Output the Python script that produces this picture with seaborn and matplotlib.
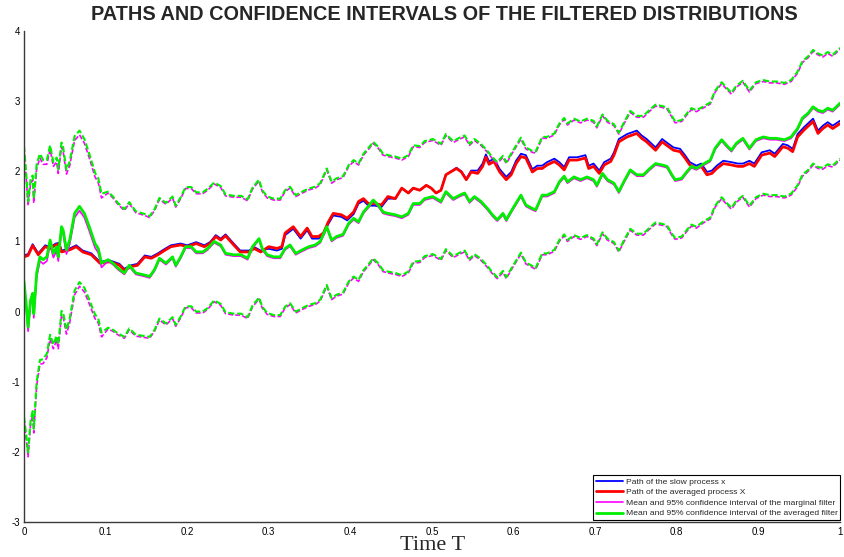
import numpy as np
import matplotlib
matplotlib.use("Agg")
import matplotlib.pyplot as plt
import seaborn as sns

# ---------------- data ----------------
path_t = [0.000, 0.005, 0.0106, 0.0175, 0.026, 0.032, 0.039, 0.043, 0.046, 0.056,
          0.064, 0.072, 0.0825, 0.093, 0.105, 0.117, 0.123, 0.131, 0.139, 0.148,
          0.156, 0.164, 0.172, 0.180, 0.192, 0.200, 0.211, 0.221, 0.228, 0.235,
          0.241, 0.247, 0.257, 0.265, 0.276, 0.282, 0.290, 0.300, 0.310, 0.316,
          0.320, 0.330, 0.339, 0.347, 0.353, 0.361, 0.367, 0.373, 0.379, 0.389,
          0.396, 0.404, 0.410, 0.416, 0.422, 0.430, 0.438, 0.446, 0.455, 0.463,
          0.471, 0.477, 0.485, 0.493, 0.499, 0.505, 0.511, 0.517, 0.530, 0.536,
          0.542, 0.548, 0.556, 0.562, 0.566, 0.570, 0.576, 0.583, 0.591, 0.597,
          0.603, 0.609, 0.615, 0.623, 0.629, 0.635, 0.641, 0.650, 0.656, 0.662,
          0.668, 0.678, 0.688, 0.692, 0.698, 0.705, 0.711, 0.719, 0.723, 0.729,
          0.739, 0.751, 0.757, 0.763, 0.774, 0.782, 0.790, 0.796, 0.804, 0.810,
          0.816, 0.824, 0.830, 0.837, 0.843, 0.849, 0.857, 0.867, 0.875, 0.881,
          0.889, 0.895, 0.904, 0.914, 0.920, 0.930, 0.936, 0.942, 0.948, 0.956,
          0.967, 0.973, 0.979, 0.985, 0.991, 1.000]

# averaged process X (red)
path_X = [0.78, 0.80, 0.94, 0.81, 0.925, 0.90, 0.95, 0.96, 0.85, 0.88,
          0.925, 0.85, 0.81, 0.69, 0.71, 0.66, 0.59, 0.64, 0.66, 0.78,
          0.76, 0.81, 0.87, 0.925, 0.95, 0.925, 0.97, 0.925, 0.97, 1.07,
          1.02, 1.08, 0.95, 0.85, 0.85, 0.90, 0.85, 0.925, 0.90, 0.925,
          1.12, 1.21, 1.07, 1.19, 1.07, 1.07, 1.12, 1.28, 1.40, 1.38,
          1.33, 1.42, 1.57, 1.61, 1.54, 1.54, 1.52, 1.64, 1.61, 1.76,
          1.69, 1.76, 1.73, 1.80, 1.76, 1.69, 1.73, 1.95, 2.04, 1.99,
          1.88, 1.99, 1.97, 2.07, 2.20, 2.10, 2.14, 1.99, 1.88, 1.95,
          2.11, 2.21, 2.19, 1.99, 2.04, 2.04, 2.09, 2.14, 2.09, 2.02,
          2.16, 2.16, 2.19, 2.04, 2.07, 1.97, 2.09, 2.14, 2.23, 2.42,
          2.49, 2.54, 2.47, 2.42, 2.30, 2.42, 2.35, 2.30, 2.28, 2.19,
          2.09, 2.04, 2.07, 1.95, 1.97, 2.04, 2.11, 2.09, 2.07, 2.07,
          2.11, 2.07, 2.23, 2.26, 2.21, 2.35, 2.33, 2.28, 2.49, 2.59,
          2.71, 2.54, 2.61, 2.66, 2.61, 2.68]

# slow process x (blue)
path_x = [0.80, 0.82, 0.96, 0.83, 0.945, 0.92, 0.97, 0.98, 0.87, 0.90,
          0.945, 0.87, 0.83, 0.71, 0.73, 0.68, 0.61, 0.66, 0.68, 0.80,
          0.78, 0.83, 0.89, 0.945, 0.97, 0.945, 0.99, 0.945, 0.99, 1.09,
          1.04, 1.10, 0.97, 0.87, 0.87, 0.92, 0.87, 0.895, 0.87, 0.895,
          1.09, 1.18, 1.04, 1.16, 1.04, 1.04, 1.09, 1.25, 1.37, 1.35,
          1.30, 1.39, 1.54, 1.58, 1.51, 1.51, 1.49, 1.61, 1.61, 1.76,
          1.69, 1.76, 1.73, 1.80, 1.76, 1.69, 1.73, 1.95, 2.05, 2.00,
          1.89, 2.01, 2.01, 2.11, 2.24, 2.14, 2.18, 2.03, 1.92, 1.99,
          2.15, 2.25, 2.23, 2.03, 2.08, 2.08, 2.13, 2.18, 2.13, 2.06,
          2.20, 2.20, 2.23, 2.08, 2.11, 2.01, 2.13, 2.18, 2.27, 2.46,
          2.53, 2.58, 2.51, 2.46, 2.34, 2.46, 2.39, 2.34, 2.32, 2.23,
          2.13, 2.08, 2.11, 1.99, 2.01, 2.08, 2.15, 2.13, 2.11, 2.11,
          2.15, 2.11, 2.27, 2.30, 2.25, 2.39, 2.37, 2.32, 2.53, 2.63,
          2.75, 2.58, 2.65, 2.70, 2.65, 2.72]

filter_t = [0.000, 0.003, 0.005, 0.008, 0.0106, 0.012, 0.0155, 0.0195, 0.0235, 0.028,
            0.032, 0.036, 0.040, 0.042, 0.046, 0.048, 0.052, 0.056, 0.062, 0.068,
            0.074, 0.080, 0.087, 0.091, 0.095, 0.103, 0.109, 0.115, 0.123, 0.129,
            0.137, 0.148, 0.154, 0.160, 0.166, 0.174, 0.182, 0.186, 0.192, 0.198,
            0.205, 0.211, 0.219, 0.225, 0.233, 0.241, 0.247, 0.257, 0.266, 0.274,
            0.280, 0.288, 0.292, 0.298, 0.306, 0.314, 0.320, 0.326, 0.333, 0.341,
            0.349, 0.357, 0.363, 0.371, 0.377, 0.383, 0.391, 0.398, 0.404, 0.410,
            0.416, 0.422, 0.428, 0.434, 0.440, 0.446, 0.455, 0.463, 0.471, 0.477,
            0.485, 0.491, 0.501, 0.511, 0.517, 0.526, 0.534, 0.540, 0.546, 0.552,
            0.560, 0.568, 0.574, 0.580, 0.587, 0.591, 0.599, 0.609, 0.615, 0.623,
            0.627, 0.635, 0.641, 0.650, 0.656, 0.662, 0.666, 0.674, 0.682, 0.690,
            0.698, 0.702, 0.709, 0.715, 0.723, 0.729, 0.735, 0.743, 0.751, 0.759,
            0.767, 0.774, 0.782, 0.788, 0.794, 0.798, 0.806, 0.812, 0.818, 0.824,
            0.832, 0.841, 0.847, 0.855, 0.861, 0.867, 0.873, 0.881, 0.889, 0.897,
            0.906, 0.914, 0.922, 0.932, 0.940, 0.948, 0.954, 0.961, 0.967, 0.973,
            0.979, 0.985, 0.991, 1.000]

# mean of the averaged filter (green)
avg_mean = [0.43, 0.07, -0.22, 0.16, 0.26, -0.03, 0.55, 0.78, 0.74, 0.78,
            1.02, 0.83, 0.925, 0.78, 1.21, 1.16, 0.88, 1.02, 1.40, 1.50,
            1.40, 1.21, 0.97, 0.90, 0.69, 0.74, 0.69, 0.62, 0.55, 0.66,
            0.55, 0.52, 0.50, 0.60, 0.76, 0.69, 0.78, 0.66, 0.78, 0.925,
            0.925, 0.85, 0.85, 0.90, 1.00, 0.95, 0.83, 0.81, 0.81, 0.76,
            0.925, 1.04, 0.90, 0.81, 0.78, 0.78, 0.90, 0.95, 0.83, 0.88,
            0.925, 0.95, 1.00, 1.21, 1.02, 1.07, 1.10, 1.26, 1.33, 1.28,
            1.42, 1.50, 1.59, 1.52, 1.42, 1.40, 1.38, 1.35, 1.40, 1.54,
            1.54, 1.61, 1.64, 1.57, 1.71, 1.61, 1.66, 1.69, 1.57, 1.64,
            1.57, 1.47, 1.38, 1.31, 1.40, 1.31, 1.47, 1.66, 1.52, 1.47,
            1.45, 1.66, 1.66, 1.71, 1.85, 1.93, 1.85, 1.92, 1.88, 1.92,
            1.88, 1.80, 1.97, 1.88, 1.83, 1.71, 1.85, 2.02, 1.95, 1.95,
            2.04, 2.11, 2.09, 2.07, 1.95, 1.88, 1.90, 1.99, 2.07, 2.04,
            2.10, 2.16, 2.33, 2.45, 2.37, 2.30, 2.40, 2.47, 2.33, 2.45,
            2.49, 2.47, 2.47, 2.45, 2.49, 2.61, 2.76, 2.83, 2.92, 2.87,
            2.85, 2.90, 2.87, 2.97]

# mean of the marginal filter (magenta)
marg_mean = [0.37, 0.01, -0.28, 0.10, 0.20, -0.09, 0.49, 0.72, 0.68, 0.72,
             0.96, 0.77, 0.865, 0.72, 1.15, 1.10, 0.82, 0.96, 1.34, 1.44,
             1.34, 1.15, 0.91, 0.84, 0.63, 0.72, 0.67, 0.60, 0.53, 0.64,
             0.53, 0.50, 0.48, 0.58, 0.74, 0.67, 0.76, 0.64, 0.76, 0.905,
             0.905, 0.83, 0.83, 0.88, 0.98, 0.93, 0.81, 0.79, 0.79, 0.74,
             0.905, 1.02, 0.88, 0.79, 0.76, 0.76, 0.88, 0.93, 0.81, 0.86,
             0.905, 0.93, 0.98, 1.19, 1.00, 1.05, 1.08, 1.24, 1.31, 1.26,
             1.40, 1.48, 1.57, 1.50, 1.40, 1.38, 1.36, 1.33, 1.38, 1.52,
             1.52, 1.59, 1.62, 1.55, 1.69, 1.59, 1.64, 1.67, 1.55, 1.62,
             1.55, 1.45, 1.36, 1.29, 1.38, 1.29, 1.45, 1.64, 1.50, 1.45,
             1.43, 1.64, 1.64, 1.69, 1.83, 1.91, 1.83, 1.90, 1.86, 1.90,
             1.86, 1.78, 1.95, 1.86, 1.81, 1.69, 1.83, 2.00, 1.93, 1.93,
             2.02, 2.09, 2.07, 2.05, 1.93, 1.86, 1.88, 1.97, 2.05, 2.02,
             2.08, 2.14, 2.31, 2.43, 2.35, 2.28, 2.38, 2.45, 2.31, 2.43,
             2.47, 2.45, 2.45, 2.43, 2.47, 2.59, 2.74, 2.81, 2.90, 2.85,
             2.83, 2.88, 2.85, 2.95]

# half-width of the 95% confidence band
ci_half = [1.93, 1.85, 1.79, 1.72, 1.68, 1.64, 1.55, 1.47, 1.42, 1.38,
           1.35, 1.30, 1.27, 1.25, 1.20, 1.18, 1.14, 1.12, 1.10, 1.08,
           1.06, 1.04, 1.01, 1.00, 0.99, 0.97, 0.95, 0.93, 0.91, 0.90,
           0.88, 0.87, 0.86, 0.86, 0.86, 0.86, 0.86, 0.85, 0.85, 0.85,
           0.85, 0.85, 0.85, 0.85, 0.84, 0.84, 0.84, 0.84, 0.84, 0.84,
           0.84, 0.84, 0.83, 0.83, 0.83, 0.83, 0.83, 0.83, 0.83, 0.83,
           0.83, 0.83, 0.83, 0.83, 0.83, 0.83, 0.83, 0.83, 0.83, 0.83,
           0.83, 0.83, 0.83, 0.83, 0.83, 0.83, 0.83, 0.83, 0.83, 0.83,
           0.82, 0.82, 0.82, 0.82, 0.82, 0.82, 0.82, 0.82, 0.82, 0.82,
           0.82, 0.82, 0.82, 0.82, 0.82, 0.82, 0.82, 0.82, 0.82, 0.82,
           0.83, 0.83, 0.83, 0.83, 0.83, 0.83, 0.83, 0.83, 0.83, 0.83,
           0.84, 0.84, 0.84, 0.84, 0.84, 0.84, 0.84, 0.84, 0.84, 0.84,
           0.84, 0.84, 0.84, 0.84, 0.84, 0.83, 0.83, 0.83, 0.83, 0.83,
           0.82, 0.82, 0.82, 0.82, 0.82, 0.82, 0.82, 0.82, 0.82, 0.82,
           0.81, 0.81, 0.81, 0.81, 0.81, 0.81, 0.81, 0.81, 0.81, 0.81,
           0.80, 0.80, 0.79, 0.79]

legend_labels = ["Path of the slow process x",
                 "Path of the averaged process X",
                 "Mean and 95% confidence interval of the marginal filter",
                 "Mean and 95% confidence interval of the averaged filter"]
x_ticks = [0, 0.1, 0.2, 0.3, 0.4, 0.5, 0.6, 0.7, 0.8, 0.9, 1]
x_tick_labels = ["0", "0.1", "0.2", "0.3", "0.4", "0.5", "0.6", "0.7", "0.8", "0.9", "1"]
y_ticks = [-3, -2, -1, 0, 1, 2, 3, 4]
title = "PATHS AND CONFIDENCE INTERVALS OF THE FILTERED DISTRIBUTIONS"

# ---------------- styling ----------------
sns.set_style("white")
plt.rcParams["font.family"] = ["Liberation Sans", "DejaVu Sans"]
plt.rcParams["axes.unicode_minus"] = False

fig = plt.figure(figsize=(8.44, 5.57), dpi=100)
ax = fig.add_axes([24 / 844, 1 - 522 / 557, 816 / 844, (522 - 31) / 557])

ft = np.array(filter_t)
avg = np.array(avg_mean)
marg = np.array(marg_mean)
hw = np.array(ci_half)

BLUE, RED, MAG, GREEN = "#0000ff", "#ff0000", "#ff00ff", "#00ee00"

def line(x, y, color, lw, dashed=False):
    sns.lineplot(x=x, y=y, ax=ax, color=color, linewidth=lw,
                 estimator=None, sort=False, legend=False)
    ln = ax.lines[-1]
    if dashed:
        ln.set_dashes((3.0, 1.3))
    return ln

h_blue = line(path_t, path_x, BLUE, 1.3)
h_red = line(path_t, path_X, RED, 2.0)
h_mag = line(ft, marg, MAG, 1.2)
line(ft, marg + hw, MAG, 1.2, dashed=True)
line(ft, marg - hw, MAG, 1.2, dashed=True)
h_green = line(ft, avg, GREEN, 2.0)
line(ft, avg + hw, GREEN, 1.5, dashed=True)
line(ft, avg - hw, GREEN, 1.5, dashed=True)

ax.set_xlim(0, 1)
ax.set_ylim(-3, 4)
ax.set_xticks(x_ticks)
ax.set_xticklabels(x_tick_labels)
ax.set_yticks(y_ticks)
ax.set_xlabel("")
ax.set_ylabel("")
for s in ["top", "right"]:
    ax.spines[s].set_visible(False)
for s in ["left", "bottom"]:
    ax.spines[s].set_color("#3a3a3a")
    ax.spines[s].set_linewidth(1.0)
ax.tick_params(axis="both", direction="in", length=6, width=0.8,
               colors="black", labelsize=7)
ax.tick_params(axis="x", pad=3.5)
ax.tick_params(axis="y", pad=3)
ax.grid(False)

fig.text(444 / 844, 1 - 14 / 557, title, ha="center", va="center",
         fontsize=14.3, fontweight="bold")
fig.text(433 / 844, 1 - 545 / 557, "Time T", ha="center", va="center",
         fontsize=16, family=["Liberation Serif", "DejaVu Serif"])

leg = ax.legend([h_blue, h_red, h_mag, h_green], legend_labels,
                loc="lower right", bbox_to_anchor=(1.0, 0.004),
                fontsize=6.1, frameon=True, fancybox=False,
                edgecolor="black", framealpha=1, borderpad=0.3,
                labelspacing=0.32, handlelength=3.2, handletextpad=0.3,
                borderaxespad=0)
leg.get_frame().set_linewidth(0.8)

fig.savefig("out.png", dpi=100)
